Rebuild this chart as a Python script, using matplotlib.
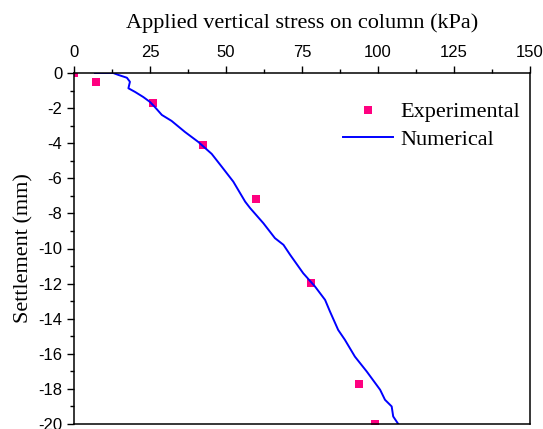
import matplotlib
matplotlib.use("Agg")
import matplotlib.pyplot as plt
from matplotlib.ticker import MultipleLocator

plt.rcParams['axes.unicode_minus'] = False

# Experimental data
exp_stress = [0, 7.1, 26.0, 42.5, 59.9, 77.9, 93.9, 99.0]
exp_settle = [0, -0.53, -1.7, -4.1, -7.2, -11.95, -17.7, -20.0]

# Numerical curve
num_stress = [6.9, 12.9, 14.6, 17.4, 18.4, 17.9, 20.1, 22.8, 25.0, 26.6, 28.9,
              32.1, 36.5, 40.9, 45.3, 48.6, 52.4, 56.3, 57.9, 62.3, 66.1, 68.9,
              71.1, 75.4, 79.3, 82.6, 84.2, 86.9, 89.1, 92.4, 96.3, 100.7,
              102.3, 104.5, 105.0, 106.7]
num_settle = [0.0, 0.0, -0.11, -0.27, -0.50, -0.87, -1.08, -1.37, -1.65, -1.94,
              -2.39, -2.73, -3.36, -3.93, -4.61, -5.34, -6.19, -7.33, -7.69,
              -8.56, -9.41, -9.79, -10.36, -11.41, -12.17, -12.93, -13.59,
              -14.64, -15.20, -16.16, -17.01, -18.05, -18.62, -19.00, -19.57,
              -20.01]

x_ticks = [0, 25, 50, 75, 100, 125, 150]
y_ticks = [0, -2, -4, -6, -8, -10, -12, -14, -16, -18, -20]

fig = plt.figure(figsize=(5.43, 4.29), dpi=100)
ax = fig.add_axes([74/543, 1-424/429, (530-74)/543, (424-73)/429])

serif = ['Liberation Serif', 'DejaVu Serif']
sans = ['Liberation Sans', 'DejaVu Sans']

ax.plot(exp_stress, exp_settle, linestyle='none', marker='s', markersize=6,
        color='#FF0080', markeredgewidth=0, label='Experimental')
ax.plot(num_stress, num_settle, color='#0000FF', linewidth=1.4, label='Numerical')

ax.set_xlim(0, 150)
ax.set_ylim(-20, 0)
ax.xaxis.set_ticks_position('top')
ax.xaxis.set_label_position('top')
ax.set_xticks(x_ticks)
ax.set_yticks(y_ticks)
ax.xaxis.set_minor_locator(MultipleLocator(12.5))
ax.yaxis.set_minor_locator(MultipleLocator(1))
ax.tick_params(which='major', direction='out', length=5, width=1.0, labelsize=12,
               top=True, bottom=False, left=True, right=False)
ax.tick_params(which='minor', direction='out', length=3, width=1.0,
               top=True, bottom=False, left=True, right=False)
ax.tick_params(axis='x', which='major', pad=4.5)
ax.tick_params(axis='y', which='major', pad=3.5)
for lab in ax.get_xticklabels() + ax.get_yticklabels():
    lab.set_family(sans)
for sp in ax.spines.values():
    sp.set_linewidth(1.1)

ax.set_xlabel('Applied vertical stress on column (kPa)', family=serif,
              fontsize=16, labelpad=12)
ax.set_ylabel('Settlement (mm)', family=serif, fontsize=16, labelpad=3)

leg = ax.legend(loc='upper left', bbox_to_anchor=(0.59, 0.918), frameon=False,
                borderaxespad=0, borderpad=0, handlelength=2.25,
                handletextpad=0.32, labelspacing=0.3,
                prop={'family': serif, 'size': 16})

fig.savefig('out.png', dpi=100)
